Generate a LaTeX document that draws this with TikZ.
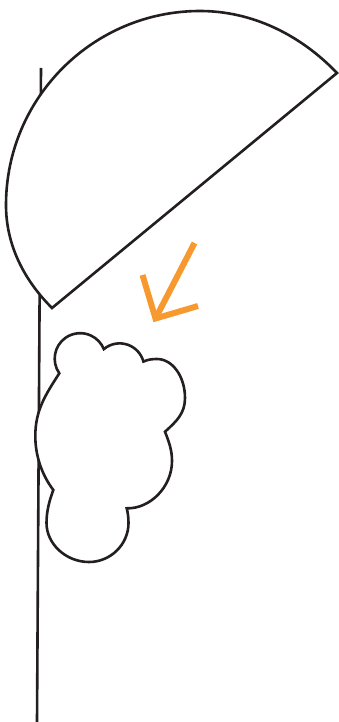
\documentclass[tikz,border=0pt]{standalone}
\usepackage{xcolor}
\usepackage{tikz}
\definecolor{ink}{HTML}{231F20}
\definecolor{accent}{HTML}{F7992F}

\begin{document}
\begin{tikzpicture}[
        x=1pt,y=-1pt,
        outline/.style={draw=ink,line width=2.6pt,fill=white,line join=miter},
        pole/.style={draw=ink,line width=2.6pt},
        pointer/.style={draw=accent,line width=6pt,line join=miter}
      ]
      \useasboundingbox (0,0) rectangle (339,722);

      % the upright line behind everything
      \coordinate (top) at (41,68);
      \coordinate (foot) at (37,722);
      \draw[pole] (top) -- (foot);

      % half disk
      \coordinate (chordA) at (52,308);
      \coordinate (chordB) at (337,73);
      \path[outline] (chordB) .. controls (300.7,35.1) and (252.6,11) .. (200,11)
        .. controls (93,11) and (6,98) .. (6,205)
        .. controls (6,245) and (24,280) .. (chordA) -- cycle;

      % the cloud, bump by bump
      \path[outline] (59.3,373.3) arc[start angle=145,end angle=338,radius=25.5]
        arc[start angle=230,end angle=345,radius=24.6]
        .. controls (148,359.5) and (152,359) .. (157,359)
        .. controls (172.5,359) and (185,376.5) .. (185,398)
        .. controls (185,413) and (177,421) .. (165,431.7)
        .. controls (169,442) and (172,450) .. (172,461)
        .. controls (172,487) and (150,509) .. (126.7,508.3)
        .. controls (127.7,512) and (128.5,517) .. (128.5,523)
        .. controls (128.5,544.5) and (110.5,562) .. (89,562)
        .. controls (66,562) and (46.5,544) .. (46.5,523)
        .. controls (46.5,510) and (50,499) .. (53.3,490)
        .. controls (41.3,474) and (35.3,455) .. (35.3,436)
        .. controls (35.3,410) and (45.8,394.3) .. (59.3,373.3) -- cycle;

      % orange pointer
      \coordinate (tail) at (194.5,243);
      \coordinate (tip) at (155.5,318.5);
      \draw[pointer] (tail) -- (tip);
      \draw[pointer] (142.5,275) -- (tip) -- (198,306);
    \end{tikzpicture}
\end{document}
